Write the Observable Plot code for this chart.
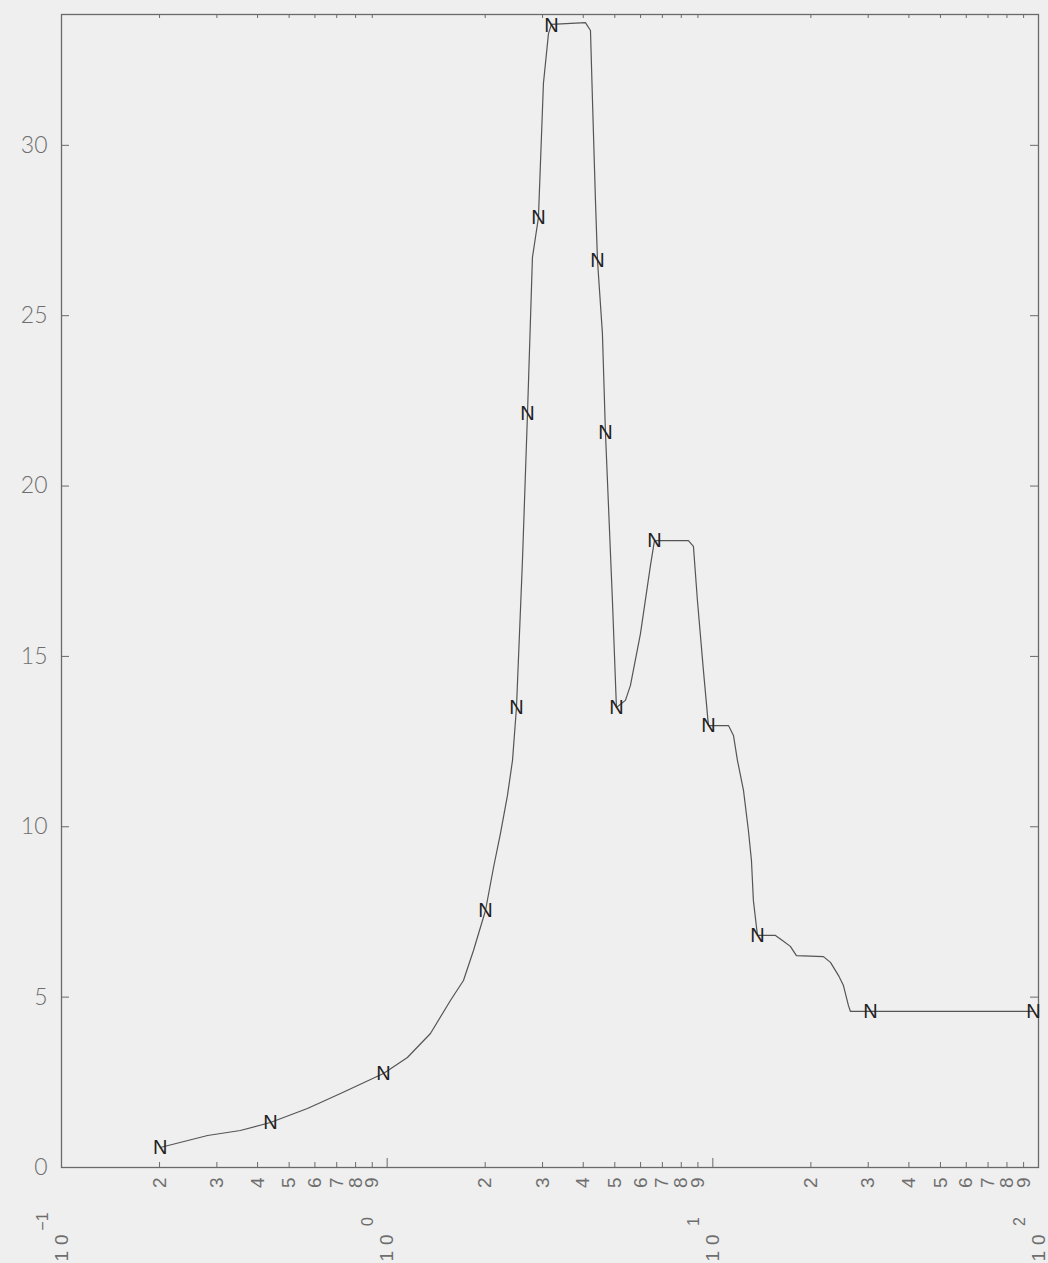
<!DOCTYPE html>
<html><head><meta charset="utf-8">
<script src="https://cdn.jsdelivr.net/npm/d3@7"></script>
<script src="https://cdn.jsdelivr.net/npm/@observablehq/plot@0.6"></script>
<style>
html,body{margin:0;padding:0;background:#efefef;}
#chart svg{display:block;background:#efefef;}
.dec text{letter-spacing:6px;}
</style></head><body><div id="chart"></div>
<script>
// Curve (x on log scale, y linear)
const curveX = [0.201,0.281,0.354,0.438,0.569,0.719,0.974,1.154,1.358,1.564,1.715,1.841,2.004,2.121,2.228,2.341,2.426,2.495,2.603,2.697,2.793,2.914,3.019,3.128,3.195,4.063,4.210,4.270,4.361,4.424,4.581,4.680,4.917,5.058,5.390,5.585,5.995,6.434,6.619,8.415,8.718,8.968,9.356,9.694,11.17,11.57,11.90,12.42,12.86,13.14,13.32,13.71,15.57,16.36,17.30,18.06,21.86,22.97,24.30,25.18,26.09,26.46,30.48,96.46];
const curveY = [0.587,0.939,1.086,1.321,1.732,2.172,2.759,3.229,3.933,4.902,5.489,6.369,7.543,8.805,9.803,10.92,11.95,13.50,17.82,22.13,26.71,27.88,31.82,33.28,33.55,33.60,33.37,31.32,28.38,26.62,24.48,21.57,16.64,13.50,13.71,14.15,15.67,17.67,18.40,18.40,18.23,16.64,14.59,12.97,12.97,12.68,11.95,11.07,9.89,9.01,7.84,6.81,6.81,6.66,6.49,6.22,6.19,6.02,5.64,5.34,4.75,4.58,4.58,4.58];
// "N" symbols
const markerX = [0.201,0.438,0.974,2.004,2.495,2.697,2.914,3.195,4.424,4.680,5.058,6.619,9.694,13.71,30.48,96.46];
const markerY = [0.587,1.321,2.759,7.543,13.50,22.13,27.88,33.50,26.62,21.57,13.50,18.40,12.97,6.81,4.58,4.58];
// Axis ticks and labels
const yTicks = [0,5,10,15,20,25,30];
const decadeTicks = [0.1,1,10,100];
const decadeExponents = ["−1","0","1","2"];
const minorTicks = [0.2,0.3,0.4,0.5,0.6,0.7,0.8,0.9,2,3,4,5,6,7,8,9,20,30,40,50,60,70,80,90];
const minorLabels = ["2","3","4","5","6","7","8","9","2","3","4","5","6","7","8","9","2","3","4","5","6","7","8","9"];

const curve = curveX.map((x,i)=>({x, y: curveY[i]}));
const markers = markerX.map((x,i)=>({x, y: markerY[i]}));

const W=1048, H=1263, mL=61, mR=10, mT=14, mB=96;
const innerW = W-mL-mR, innerH = H-mT-mB;
const ink = "#6a6a6a";

const chart = Plot.plot({
  width: W, height: H,
  marginLeft: mL, marginRight: mR, marginTop: mT, marginBottom: mB,
  style: {background: "#efefef", fontFamily: "Liberation Sans, sans-serif", color: "#555"},
  x: {type: "log", domain: [0.1, 100], axis: null},
  y: {domain: [0, 33.84], axis: null},
  marks: [
    Plot.frame({stroke: ink, strokeWidth: 1.3}),
    Plot.tickX(minorTicks, {x: d=>d, insetTop: innerH-5, stroke: ink}),
    Plot.tickX(decadeTicks, {x: d=>d, insetTop: innerH-9, stroke: ink}),
    Plot.tickX(minorTicks, {x: d=>d, insetBottom: innerH-4, stroke: ink}),
    Plot.tickY(yTicks, {y: d=>d, insetRight: innerW-8, stroke: ink}),
    Plot.tickY(yTicks, {y: d=>d, insetLeft: innerW-8, stroke: ink}),
    Plot.text(yTicks, {y: d=>d, text: d=>String(d), frameAnchor: "left", textAnchor: "end", dx: -14,
      fontSize: 23, fontFamily: "Lato, Liberation Sans, sans-serif", fontWeight: 300, fill: "#6e6e6e"}),
    Plot.text(minorTicks, {x: d=>d, text: (d,i)=>minorLabels[i], frameAnchor: "bottom", rotate: -90,
      textAnchor: "end", lineAnchor: "middle", dy: 10, fontSize: 19, fill: "#6e6e6e"}),
    Plot.text(decadeTicks, {x: d=>d, text: d=>"10", frameAnchor: "bottom", rotate: -90,
      textAnchor: "start", lineAnchor: "middle", dy: 94, fontSize: 19, fill: "#6e6e6e", className: "dec"}),
    Plot.text(decadeTicks, {x: d=>d, text: (d,i)=>decadeExponents[i], frameAnchor: "bottom", rotate: -90,
      textAnchor: "middle", lineAnchor: "middle", dx: -19, dy: 54, fontSize: 16, fill: "#6e6e6e"}),
    Plot.line(curve, {x: "x", y: "y", stroke: "#555", strokeWidth: 1.2}),
    Plot.text(markers, {x: "x", y: "y", text: d=>"N", fontSize: 20, fill: "#222"})
  ]
});
document.getElementById("chart").appendChild(chart);
</script></body></html>
